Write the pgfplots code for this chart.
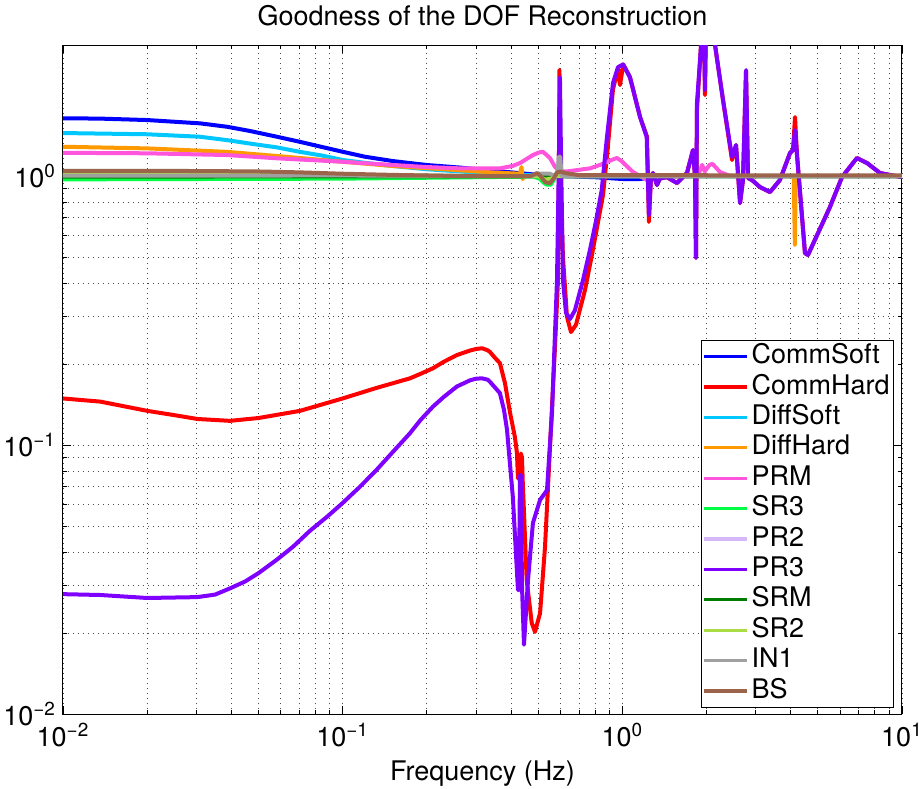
\documentclass[border=0pt]{standalone}
\usepackage{pgfplots}
\pgfplotsset{compat=1.18}
\usepackage{fontspec}
\setmainfont{TeX Gyre Heros}
\definecolor{cCommSoft}{RGB}{0,0,255}
\definecolor{cCommHard}{RGB}{255,0,0}
\definecolor{cDiffSoft}{RGB}{0,200,255}
\definecolor{cDiffHard}{RGB}{255,153,0}
\definecolor{cPRM}{RGB}{255,85,221}
\definecolor{cSR3}{RGB}{0,255,68}
\definecolor{cPR2}{RGB}{214,184,248}
\definecolor{cPR3}{RGB}{127,0,255}
\definecolor{cSRM}{RGB}{0,125,0}
\definecolor{cSR2}{RGB}{170,221,68}
\definecolor{cIN1}{RGB}{160,160,160}
\definecolor{cBS}{RGB}{155,100,75}
\begin{document}
\begin{tikzpicture}
\useasboundingbox (-31.5pt,-37pt) rectangle (428pt,357pt);
\begin{axis}[
  at={(0,0)}, anchor=south west,
  scale only axis, width=419.5pt, height=334.5pt,
  xmode=log, ymode=log,
  xmin=0.01, xmax=10, ymin=0.01, ymax=3.07,
  font=\fontsize{13.5}{16}\selectfont,
  xtick={0.01,0.1,1,10},
  xticklabels={10\textsuperscript{−2},10\textsuperscript{−1},10\textsuperscript{0},10\textsuperscript{1}},
  ytick={0.01,0.1,1},
  yticklabels={10\textsuperscript{−2},10\textsuperscript{−1},10\textsuperscript{0}},
  xticklabel style={yshift=-1pt},
  tick align=inside, major tick length=4pt, minor tick length=2pt,
  tick style={black, line width=0.4pt},
  axis line style={black, line width=0.5pt},
  grid=both,
  major grid style={black!70, line width=0.4pt, dash pattern=on 0.5pt off 2pt},
  minor grid style={black!70, line width=0.4pt, dash pattern=on 0.5pt off 2pt},
  title={Goodness of the DOF Reconstruction},
  title style={at={(0.5,1)}, anchor=base, yshift=4pt},
  xlabel={Frequency (Hz)},
  xlabel style={at={(axis description cs:0.5,0)}, anchor=base, yshift=-33pt},
  every axis plot/.append style={line width=2pt, line join=round},
  legend cell align=left,
  legend style={at={(0.9905,0.009)}, anchor=south east, draw=black, line width=0.5pt,
    font=\fontsize{13.5}{16}\selectfont, row sep=0pt, inner xsep=0.3pt, inner ysep=0.6pt,
    nodes={inner sep=1.6pt, text height=9.5pt, text depth=2.5pt}},
  legend image code/.code={\draw[#1, line width=1.6pt] (0pt,0pt) -- (21.5pt,0pt);},
]
\addplot[cCommSoft] coordinates {(0.01,1.64) (0.0136,1.635) (0.02,1.615) (0.0309,1.57) (0.0386,1.525) (0.0467,1.47) (0.0582,1.40) (0.0704,1.34) (0.085,1.28) (0.1,1.231) (0.12,1.18) (0.151,1.137) (0.2,1.099) (0.263,1.075) (0.35,1.045) (0.43,1.025) (0.5,1.01) (0.6,1.0) (0.8,0.99) (1.0,0.975) (1.15,0.975) (1.35,0.99) (1.6,1.0) (10,1.0)};
\addlegendentry{CommSoft}
\addplot[cCommHard] coordinates {(0.01,0.149) (0.0136,0.145) (0.02,0.134) (0.0252,0.129) (0.0302,0.125) (0.0395,0.123) (0.05,0.126) (0.0704,0.134) (0.1,0.149) (0.132,0.163) (0.174,0.177) (0.19,0.184) (0.2104,0.193) (0.23,0.204) (0.256,0.216) (0.2853,0.2245) (0.3,0.2275) (0.315,0.229) (0.33,0.225) (0.336,0.222) (0.3504,0.211) (0.365,0.2017) (0.3805,0.170) (0.397,0.1315) (0.413,0.107) (0.42,0.0934) (0.4235,0.075) (0.4305,0.075) (0.434,0.093) (0.4377,0.09) (0.4403,0.074) (0.455,0.0315) (0.4743,0.0218) (0.4872,0.0202) (0.508,0.0237) (0.5291,0.0418) (0.5512,0.098) (0.5744,0.231) (0.5888,0.41) (0.593,1.0) (0.596,2.48) (0.600,1.0) (0.6134,0.5) (0.634,0.3) (0.6553,0.263) (0.683,0.28) (0.7354,0.377) (0.779,0.51) (0.853,0.85) (0.8886,1.3) (0.926,2.1) (0.965,2.5) (0.981,2.18) (1.008,2.6) (1.065,2.33) (1.157,1.657) (1.225,1.40) (1.245,0.675) (1.266,0.99) (1.287,1.026) (1.330,0.926) (1.364,0.98) (1.444,0.99) (1.568,0.942) (1.703,1.026) (1.789,1.249) (1.819,1.0) (1.834,0.496) (1.849,1.759) (1.897,2.7) (1.927,3.5) (1.959,3.5) (1.975,2.0) (1.991,3.5) (2.109,3.5) (2.145,3.07) (2.291,1.917) (2.467,1.147) (2.55,1.304) (2.636,0.794) (2.70,0.966) (2.769,2.45) (2.815,0.983) (2.909,0.966) (3.105,0.91) (3.373,0.872) (3.66,0.966) (3.978,1.218) (4.077,1.249) (4.145,1.657) (4.213,1.2) (4.499,0.517) (4.612,0.509) (5.526,0.767) (6.101,0.991) (6.902,1.167) (7.497,1.118) (8.344,1.026) (10,0.99)};
\addlegendentry{CommHard}
\addplot[cDiffSoft] coordinates {(0.01,1.445) (0.02,1.43) (0.0309,1.40) (0.0386,1.36) (0.0467,1.32) (0.0582,1.278) (0.0704,1.23) (0.085,1.19) (0.1,1.147) (0.12,1.12) (0.151,1.09) (0.2,1.06) (0.263,1.04) (0.35,1.02) (0.43,1.01) (0.6,1.0) (10,1.0)};
\addlegendentry{DiffSoft}
\addplot[cDiffHard] coordinates {(0.01,1.285) (0.02,1.267) (0.0386,1.23) (0.0582,1.187) (0.1,1.13) (0.151,1.09) (0.263,1.05) (0.35,1.03) (0.43,1.02) (0.436,1.08) (0.440,0.975) (0.447,1.0) (0.6,1.0) (4.10,1.0) (4.14,0.554) (4.17,1.0) (10,1.0)};
\addlegendentry{DiffHard}
\addplot[cPRM] coordinates {(0.01,1.22) (0.02,1.215) (0.0386,1.197) (0.0582,1.164) (0.1,1.13) (0.151,1.099) (0.2,1.08) (0.263,1.068) (0.365,1.068) (0.405,1.09) (0.431,1.118) (0.479,1.197) (0.505,1.225) (0.520,1.23) (0.535,1.2) (0.551,1.167) (0.574,1.083) (0.598,1.04) (0.634,1.04) (0.766,1.068) (0.832,1.1) (0.92,1.15) (0.957,1.167) (0.99,1.14) (1.092,1.035) (1.225,0.966) (1.364,0.99) (1.85,1.0) (1.897,1.05) (1.93,1.1) (1.97,1.04) (2.05,1.1) (2.1,1.11) (2.235,1.035) (2.43,1.0) (10,1.0)};
\addlegendentry{PRM}
\addplot[cSR3] coordinates {(0.01,0.972) (0.1,0.978) (0.3,0.99) (0.48,0.995) (0.505,0.98) (0.52,0.95) (0.535,0.93) (0.555,0.93) (0.57,0.97) (0.585,1.0) (10,1.0)};
\addlegendentry{SR3}
\addplot[cPR2] coordinates {(0.01,1.0) (0.5,1.0) (0.55,0.97) (0.6,1.0) (10,1.0)};
\addlegendentry{PR2}
\addplot[cPR3] coordinates {(0.01,0.0279) (0.0136,0.0277) (0.02,0.027) (0.0302,0.0272) (0.035,0.0278) (0.0395,0.0293) (0.0448,0.0311) (0.05,0.0334) (0.0582,0.0375) (0.0665,0.0419) (0.0764,0.048) (0.0879,0.0541) (0.1,0.0609) (0.1153,0.070) (0.132,0.0807) (0.1514,0.0944) (0.174,0.1106) (0.19,0.124) (0.2104,0.139) (0.23,0.151) (0.256,0.165) (0.2853,0.174) (0.3,0.1765) (0.315,0.177) (0.33,0.175) (0.336,0.172) (0.365,0.156) (0.3775,0.135) (0.387,0.114) (0.406,0.0641) (0.4235,0.0289) (0.427,0.0289) (0.4305,0.0773) (0.434,0.0773) (0.4377,0.03) (0.445,0.0181) (0.46,0.0315) (0.479,0.0513) (0.508,0.0625) (0.529,0.0663) (0.5378,0.068) (0.5604,0.1315) (0.584,0.41) (0.5936,1.2) (0.5984,2.33) (0.6035,1.2) (0.6134,0.41) (0.6288,0.31) (0.65,0.294) (0.677,0.317) (0.7234,0.41) (0.766,0.531) (0.805,0.68) (0.844,0.887) (0.879,1.361) (0.926,2.217) (0.965,2.54) (1.006,2.6) (1.065,2.33) (1.157,1.657) (1.222,1.40) (1.245,0.716) (1.266,0.99) (1.287,1.026) (1.330,0.926) (1.364,0.98) (1.444,0.99) (1.568,0.942) (1.703,1.026) (1.789,1.249) (1.819,1.0) (1.834,0.496) (1.849,1.868) (1.897,2.7) (1.927,3.5) (1.959,3.5) (1.975,2.087) (1.991,3.5) (2.109,3.5) (2.145,3.07) (2.291,1.917) (2.467,1.177) (2.55,1.304) (2.636,0.794) (2.70,0.966) (2.769,2.478) (2.815,0.983) (2.909,0.966) (3.105,0.91) (3.373,0.872) (3.66,0.966) (3.978,1.218) (4.077,1.249) (4.145,1.483) (4.213,1.2) (4.499,0.517) (4.612,0.509) (5.526,0.767) (6.101,0.991) (6.902,1.167) (7.497,1.118) (8.344,1.026) (10,0.99)};
\addlegendentry{PR3}
\addplot[cSRM] coordinates {(0.01,0.995) (0.3,0.998) (10,1.0)};
\addlegendentry{SRM}
\addplot[cSR2] coordinates {(0.01,1.017) (0.1,1.01) (0.3,1.0) (0.5,1.0) (0.53,0.97) (0.56,0.98) (0.58,1.0) (10,1.0)};
\addlegendentry{SR2}
\addplot[cIN1] coordinates {(0.01,1.003) (0.1,1.005) (0.3,1.002) (0.47,1.0) (0.5,1.02) (0.55,1.02) (0.575,1.0) (0.588,1.05) (0.593,1.18) (0.6,1.18) (0.606,1.0) (10,1.0)};
\addlegendentry{IN1}
\addplot[cBS] coordinates {(0.01,1.046) (0.03,1.044) (0.05,1.04) (0.07,1.032) (0.1,1.02) (0.15,1.01) (0.263,1.0) (0.47,1.0) (0.4954,1.026) (0.51,1.0) (0.529,0.95) (0.551,0.94) (0.5697,0.983) (0.584,1.03) (0.598,1.04) (0.624,1.026) (0.7,1.008) (10,1.005)};
\addlegendentry{BS}
\end{axis}
\end{tikzpicture}
\end{document}
